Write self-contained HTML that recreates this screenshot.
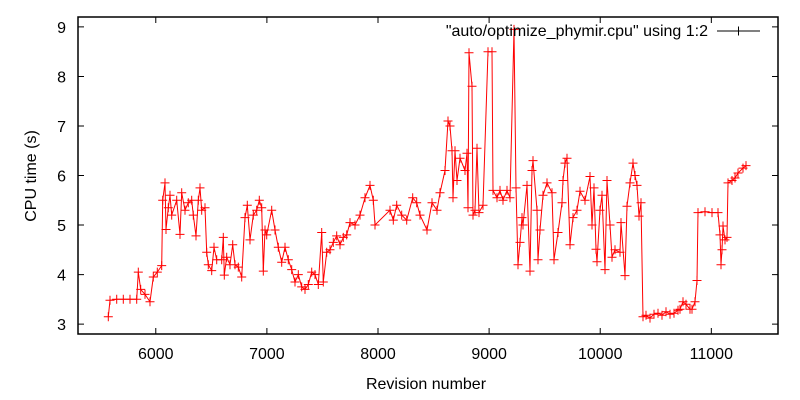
<!DOCTYPE html>
<html><head><meta charset="utf-8"><style>
html,body{margin:0;padding:0;background:#fff;}
svg{display:block;font-family:"Liberation Sans",Arial,sans-serif;}
</style></head><body>
<svg id="chart" width="800" height="400" viewBox="0 0 800 400" xmlns="http://www.w3.org/2000/svg">
<rect x="0" y="0" width="800" height="400" fill="#fff"/>
<g id="grid-ticks"></g>
<g id="series"></g>
<rect x="78" y="17" width="700" height="317" fill="none" stroke="#000" stroke-width="1.5"/>
<text x="426" y="389" font-size="16" text-anchor="middle">Revision number</text>
<text x="36" y="176" font-size="16" text-anchor="middle" transform="rotate(-90 36 176)">CPU time (s)</text>
<g>
<text x="708" y="36" font-size="16" text-anchor="end">"auto/optimize_phymir.cpu" using 1:2</text>
<line x1="717" y1="31" x2="760" y2="31" stroke="#000" stroke-width="1"/>
<path d="M734 31h9M738.5 26.5v9" stroke="#000" stroke-width="1"/>
</g>
</svg>
<script>
const xTicks = [6000, 7000, 8000, 9000, 10000, 11000];
const yTicks = [3, 4, 5, 6, 7, 8, 9];
const revisions = [
5573,5588,5648,5708,5768,5828,5843,5864,5903,5948,
5978,6014,6053,6062,6083,6092,6113,6128,6143,6188,
6218,6233,6263,6293,6323,6338,6362,6383,6398,6413,
6443,6458,6473,6503,6524,6548,6593,6608,6617,6638,
6668,6692,6713,6743,6773,6803,6824,6848,6878,6908,
6932,6953,6968,6983,6998,7043,7073,7103,7133,7163,
7193,7223,7253,7283,7313,7343,7373,7403,7433,7463,
7493,7508,7538,7568,7598,7628,7658,7688,7718,7748,
7793,7838,7883,7928,7958,7973,8108,8138,8168,8213,
8258,8312,8348,8378,8441,8486,8531,8558,8603,8630,
8648,8666,8675,8693,8711,8738,8783,8801,8810,8819,
8846,8855,8873,8891,8909,8945,8990,9026,9035,9071,
9098,9125,9161,9188,9224,9242,9260,9278,9296,9305,
9341,9368,9386,9395,9431,9440,9458,9485,9521,9566,
9584,9620,9656,9665,9683,9701,9728,9755,9791,9818,
9863,9908,9926,9944,9962,9971,9998,10016,10043,10061,
10088,10106,10133,10178,10187,10223,10241,10268,10295,10313,
10331,10349,10367,10385,10412,10448,10484,10520,10556,10592,
10628,10664,10700,10718,10745,10772,10808,10826,10853,10871,
10880,10943,11006,11060,11078,11087,11096,11105,11123,11141,
11150,11186,11213,11240,11285,11312];
const cpuTimes = [
3.15,3.48,3.5,3.5,3.5,3.5,4.05,3.7,3.6,3.45,
3.95,4.05,4.18,5.5,5.85,4.91,5.35,5.6,5.2,5.5,
4.81,5.65,5.3,5.45,5.5,5.2,4.78,5.5,5.75,5.3,
5.35,4.45,4.2,4.08,4.55,4.3,4.3,4.75,3.99,4.35,
4.2,4.6,4.2,4.15,3.95,5.15,5.4,4.7,5.2,5.3,
5.5,5.35,4.07,4.9,4.8,5.3,4.9,4.55,4.25,4.55,
4.3,4.1,3.85,4.0,3.75,3.7,3.8,4.05,4.0,3.8,
4.85,3.85,4.45,4.5,4.65,4.78,4.6,4.75,4.8,5.05,
5.0,5.2,5.55,5.8,5.5,5.0,5.3,5.1,5.4,5.2,
5.1,5.55,5.45,5.2,4.9,5.45,5.3,5.65,6.1,7.1,
7.0,6.5,5.55,6.5,5.9,6.35,6.1,6.45,5.35,8.48,
7.8,5.2,5.3,6.55,5.25,5.4,8.5,8.5,5.7,5.55,
5.7,5.5,5.7,5.55,8.95,5.75,4.2,4.65,5.15,5.0,
5.8,4.07,6.1,6.3,5.3,4.3,4.9,5.6,5.85,5.65,
4.3,4.85,5.45,5.9,6.25,6.35,4.6,5.15,5.3,5.68,
5.5,5.98,5.0,5.75,4.51,4.26,5.3,5.6,4.1,5.9,
5.0,4.35,4.5,4.45,5.05,3.98,5.38,5.85,6.25,6.0,
5.8,5.18,5.45,3.15,3.18,3.12,3.2,3.22,3.18,3.25,
3.2,3.22,3.28,3.3,3.45,3.4,3.3,3.3,3.45,3.88,
5.25,5.27,5.25,5.25,4.8,4.2,4.5,4.98,4.7,4.75,
5.85,5.9,5.95,6.05,6.15,6.2];

const X0 = 78, X1 = 778, Y0 = 17, Y1 = 334;
const xMin = 5300, xMax = 11600, yMin = 2.8, yMax = 9.2;
function xs(v){ return X0 + (v - xMin) / (xMax - xMin) * (X1 - X0); }
function ys(v){ return Y1 - (v - yMin) / (yMax - yMin) * (Y1 - Y0); }
const NS = "http://www.w3.org/2000/svg";
const tg = document.getElementById('grid-ticks');
xTicks.forEach(t => {
  const x = xs(t);
  const p = document.createElementNS(NS, 'path');
  p.setAttribute('d', `M${x} ${Y1}v-6M${x} ${Y0}v6`);
  p.setAttribute('stroke', '#000');
  p.setAttribute('stroke-width', '1');
  
  
  tg.appendChild(p);
  const tx = document.createElementNS(NS, 'text');
  tx.setAttribute('x', x);
  tx.setAttribute('y', 359);
  tx.setAttribute('font-size', '16');
  tx.setAttribute('text-anchor', 'middle');
  tx.textContent = t;
  
  
  tg.appendChild(tx);
});
yTicks.forEach(t => {
  const y = ys(t);
  const p = document.createElementNS(NS, 'path');
  p.setAttribute('d', `M${X0} ${y}h6M${X1} ${y}h-6`);
  p.setAttribute('stroke', '#000');
  p.setAttribute('stroke-width', '1');
  
  
  tg.appendChild(p);
  const tx = document.createElementNS(NS, 'text');
  tx.setAttribute('x', 66);
  tx.setAttribute('y', y + 6);
  tx.setAttribute('font-size', '16');
  tx.setAttribute('text-anchor', 'end');
  tx.textContent = t;
  
  
  tg.appendChild(tx);
});
const sg = document.getElementById('series');
const n = Math.min(revisions.length, cpuTimes.length);
let d = '';
for (let i = 0; i < n; i++) { d += (i ? 'L' : 'M') + xs(revisions[i]).toFixed(1) + ' ' + ys(cpuTimes[i]).toFixed(1); }
const line = document.createElementNS(NS, 'path');
line.setAttribute('d', d);
line.setAttribute('fill', 'none');
line.setAttribute('stroke', '#ff0000');
line.setAttribute('stroke-width', '1');


sg.appendChild(line);
let m = '';
for (let i = 0; i < n; i++) {
  const x = xs(revisions[i]), y = ys(cpuTimes[i]);
  m += `M${(x-4.5).toFixed(1)} ${y.toFixed(1)}h9M${x.toFixed(1)} ${(y-4.5).toFixed(1)}v9`;
}
const marks = document.createElementNS(NS, 'path');
marks.setAttribute('d', m);
marks.setAttribute('stroke', '#ff0000');
marks.setAttribute('stroke-width', '1');
marks.setAttribute('fill', 'none');


sg.appendChild(marks);
</script>
</body></html>
